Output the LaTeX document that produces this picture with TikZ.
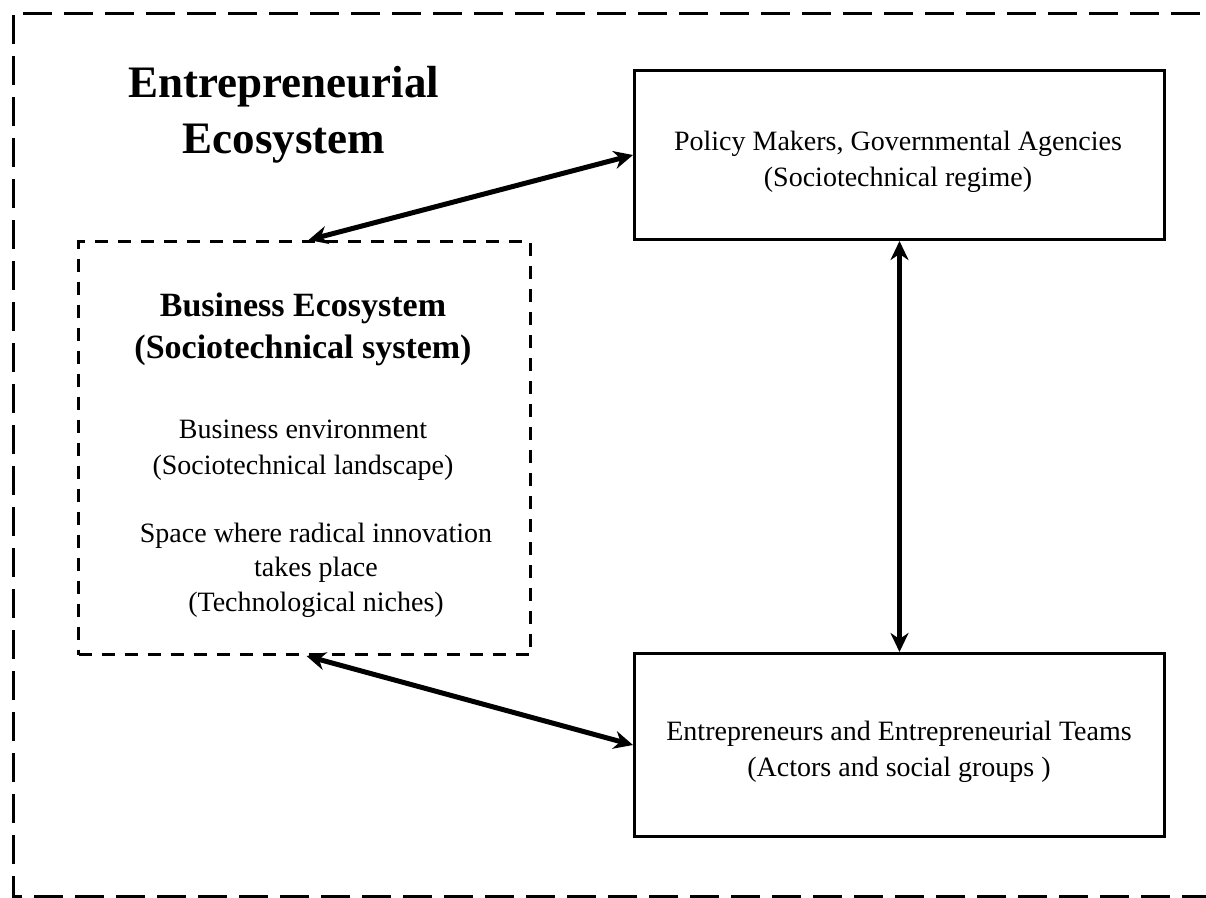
\documentclass[tikz,border=0pt]{standalone}
\usepackage{fontspec}
\setmainfont{Liberation Serif}
\usetikzlibrary{arrows.meta,calc}

\tikzset{
  box/.style={draw=black, line width=3pt, minimum width=530pt, inner sep=0pt},
  dashbox/.style={draw=black, line width=3pt, inner sep=0pt,
    dash pattern=on 13pt off 10pt},
  frame/.style={draw=black, line width=3pt, dash pattern=on 29pt off 12pt},
  link/.style={line width=5pt,
    {Stealth[length=19pt,width=18pt,inset=6pt]}-{Stealth[length=19pt,width=18pt,inset=6pt]}},
  title/.style={font=\bfseries\fontsize{45}{56}\selectfont, align=center, anchor=base, inner sep=0pt},
  head/.style={font=\bfseries\fontsize{34}{42}\selectfont, align=center, anchor=base, inner sep=0pt},
  body/.style={font=\fontsize{28}{36}\selectfont, align=center, anchor=base, inner sep=0pt},
  bodytight/.style={font=\fontsize{28}{34.5}\selectfont, align=center, anchor=base, inner sep=0pt},
}

\begin{document}
\begin{tikzpicture}[x=1pt, y=-1pt]
  \useasboundingbox (0,0) rectangle (1206,897);
  \clip (0,0) rectangle (1206,897);
  \fill[white] (0,0) rectangle (1206,897);

  % outer frame of the entrepreneurial ecosystem (open to the right)
  \draw[frame] (23,13) -- (1240,13);
  \draw[frame] (13,15) -- (13,896) -- (1240,896);

  % boxes
  \node[box, minimum height=169pt, anchor=north west] (policy) at (633,69) {};
  \node[box, minimum height=183pt, anchor=north west] (ent) at (633,652) {};
  \node[dashbox, minimum width=452pt, minimum height=413pt, anchor=north west] (biz) at (77,240) {};

  % texts (anchored at the baseline of their last line)
  \node[title] (ttl) at (284,153) {Entrepreneurial\\Ecosystem};
  \node[head] (bizhead) at (303,358) {Business Ecosystem\\(Sociotechnical system)};
  \node[body] (bizenv) at (303,474) {Business environment\\(Sociotechnical landscape)};
  \node[bodytight] (niche) at (316,611) {Space where radical innovation\\takes place\\(Technological niches)};
  \node[body] (poltext) at (898,186) {Policy Makers, Governmental Agencies\\(Sociotechnical regime)};
  \node[body] (enttext) at (899,776) {Entrepreneurs and Entrepreneurial Teams\\(Actors and social groups )};

  % connectors
  \draw[link] ($(biz.north)+(4,0)$) -- (policy.west);
  \draw[link] ($(biz.south)+(2,0)$) -- (ent.west);
  \draw[link] (policy.south) -- (ent.north);
\end{tikzpicture}
\end{document}
